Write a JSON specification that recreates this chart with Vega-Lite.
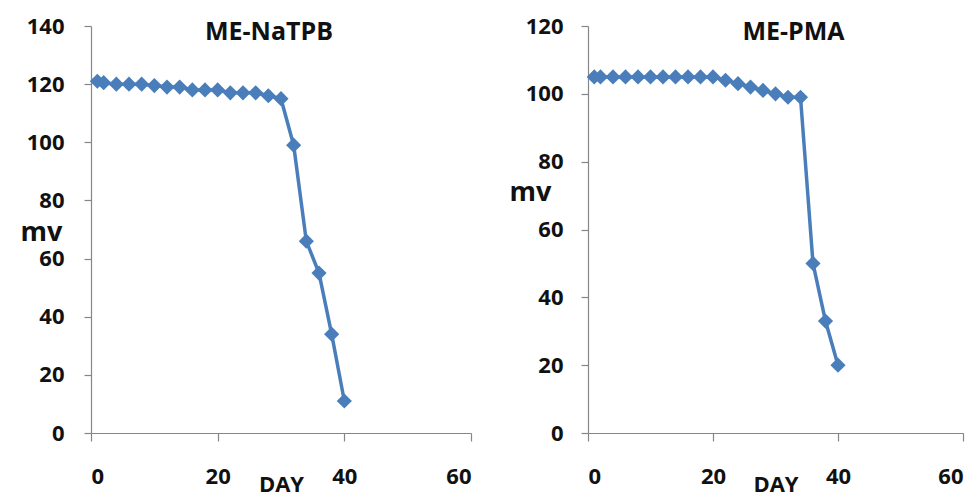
{
  "$schema": "https://vega.github.io/schema/vega-lite/v6.json",
  "padding": {"left": 20, "top": 15, "right": 3, "bottom": 0},
  "spacing": 37,
  "config": {
    "view": {"stroke": null},
    "font": "Open Sans",
    "axis": {
      "grid": false,
      "domainColor": "#868686",
      "tickColor": "#868686",
      "domainWidth": 1.2,
      "tickWidth": 1.2,
      "labelFont": "Open Sans",
      "labelFontWeight": "bold",
      "labelFontSize": 22,
      "labelColor": "#111111",
      "titleFont": "Open Sans",
      "titleFontWeight": "bold",
      "titleColor": "#111111"
    },
    "title": {"font": "Open Sans", "fontWeight": "bold", "fontSize": 25, "color": "#111111"}
  },
  "data": {
    "values": [
      {"panel": "ME-NaTPB", "day": 1, "mv": 121},
      {"panel": "ME-NaTPB", "day": 2, "mv": 120.5},
      {"panel": "ME-NaTPB", "day": 4, "mv": 120},
      {"panel": "ME-NaTPB", "day": 6, "mv": 120},
      {"panel": "ME-NaTPB", "day": 8, "mv": 120},
      {"panel": "ME-NaTPB", "day": 10, "mv": 119.5},
      {"panel": "ME-NaTPB", "day": 12, "mv": 119},
      {"panel": "ME-NaTPB", "day": 14, "mv": 119},
      {"panel": "ME-NaTPB", "day": 16, "mv": 118},
      {"panel": "ME-NaTPB", "day": 18, "mv": 118},
      {"panel": "ME-NaTPB", "day": 20, "mv": 118},
      {"panel": "ME-NaTPB", "day": 22, "mv": 117},
      {"panel": "ME-NaTPB", "day": 24, "mv": 117},
      {"panel": "ME-NaTPB", "day": 26, "mv": 117},
      {"panel": "ME-NaTPB", "day": 28, "mv": 116},
      {"panel": "ME-NaTPB", "day": 30, "mv": 115},
      {"panel": "ME-NaTPB", "day": 32, "mv": 99},
      {"panel": "ME-NaTPB", "day": 34, "mv": 66},
      {"panel": "ME-NaTPB", "day": 36, "mv": 55},
      {"panel": "ME-NaTPB", "day": 38, "mv": 34},
      {"panel": "ME-NaTPB", "day": 40, "mv": 11},
      {"panel": "ME-PMA", "day": 1, "mv": 105},
      {"panel": "ME-PMA", "day": 2, "mv": 105},
      {"panel": "ME-PMA", "day": 4, "mv": 105},
      {"panel": "ME-PMA", "day": 6, "mv": 105},
      {"panel": "ME-PMA", "day": 8, "mv": 105},
      {"panel": "ME-PMA", "day": 10, "mv": 105},
      {"panel": "ME-PMA", "day": 12, "mv": 105},
      {"panel": "ME-PMA", "day": 14, "mv": 105},
      {"panel": "ME-PMA", "day": 16, "mv": 105},
      {"panel": "ME-PMA", "day": 18, "mv": 105},
      {"panel": "ME-PMA", "day": 20, "mv": 105},
      {"panel": "ME-PMA", "day": 22, "mv": 104},
      {"panel": "ME-PMA", "day": 24, "mv": 103},
      {"panel": "ME-PMA", "day": 26, "mv": 102},
      {"panel": "ME-PMA", "day": 28, "mv": 101},
      {"panel": "ME-PMA", "day": 30, "mv": 100},
      {"panel": "ME-PMA", "day": 32, "mv": 99},
      {"panel": "ME-PMA", "day": 34, "mv": 99},
      {"panel": "ME-PMA", "day": 36, "mv": 50},
      {"panel": "ME-PMA", "day": 38, "mv": 33},
      {"panel": "ME-PMA", "day": 40, "mv": 20}
    ]
  },
  "hconcat": [
    {
      "width": 380,
      "height": 407,
      "title": {"text": "ME-NaTPB", "anchor": "middle", "offset": -30, "dx": -12},
      "transform": [{"filter": "datum.panel === 'ME-NaTPB'"}],
      "encoding": {
        "x": {
          "field": "day", "type": "quantitative",
          "scale": {"domain": [0, 60], "nice": false},
          "axis": {"values": [0, 20, 40, 60], "title": "DAY", "tickSize": 8, "labelPadding": 25,
                   "titleFontSize": 22, "titleY": 51, "titleBaseline": "middle"}
        },
        "y": {
          "field": "mv", "type": "quantitative",
          "scale": {"domain": [0, 140], "nice": false},
          "axis": {"values": [0, 20, 40, 60, 80, 100, 120, 140], "title": "mv", "titleAngle": 0,
                   "titleFontSize": 27, "titleX": -50, "titleY": 206, "titleAlign": "center",
                   "titleBaseline": "middle", "tickSize": 7, "labelPadding": 20}
        }
      },
      "layer": [
        {"mark": {"type": "line", "color": "#4A7EBB", "strokeWidth": 3.5}},
        {"mark": {"type": "point", "shape": "diamond", "filled": true, "size": 230, "color": "#4A7EBB", "opacity": 1}}
      ]
    },
    {
      "width": 375,
      "height": 407,
      "title": {"text": "ME-PMA", "anchor": "middle", "offset": -30, "dx": 18},
      "transform": [{"filter": "datum.panel === 'ME-PMA'"}],
      "encoding": {
        "x": {
          "field": "day", "type": "quantitative",
          "scale": {"domain": [0, 60], "nice": false},
          "axis": {"values": [0, 20, 40, 60], "title": "DAY", "tickSize": 8, "labelPadding": 25,
                   "titleFontSize": 22, "titleY": 51, "titleBaseline": "middle"}
        },
        "y": {
          "field": "mv", "type": "quantitative",
          "scale": {"domain": [0, 120], "nice": false},
          "axis": {"values": [0, 20, 40, 60, 80, 100, 120], "title": "mv", "titleAngle": 0,
                   "titleFontSize": 27, "titleX": -58, "titleY": 166, "titleAlign": "center",
                   "titleBaseline": "middle", "tickSize": 7, "labelPadding": 18}
        }
      },
      "layer": [
        {"mark": {"type": "line", "color": "#4A7EBB", "strokeWidth": 3.5}},
        {"mark": {"type": "point", "shape": "diamond", "filled": true, "size": 230, "color": "#4A7EBB", "opacity": 1}}
      ]
    }
  ]
}
